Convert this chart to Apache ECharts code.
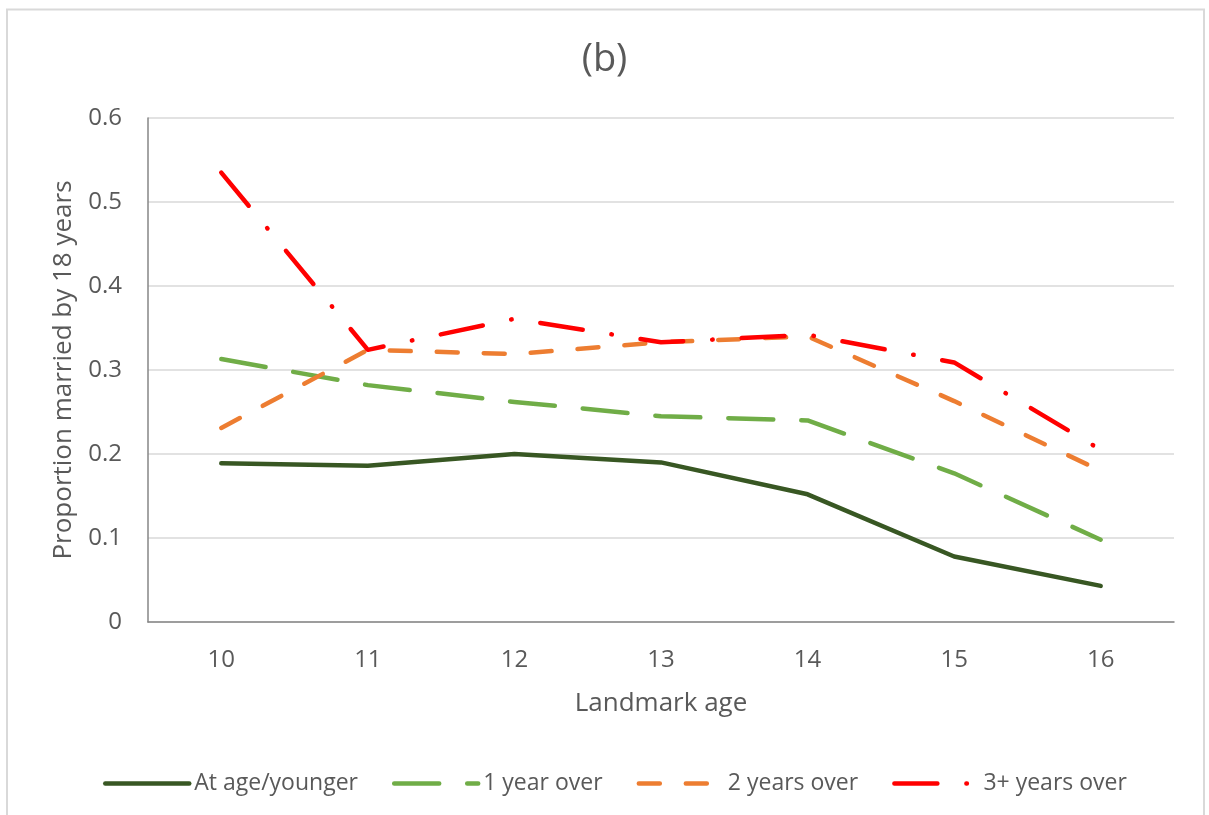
<!DOCTYPE html>
<html>
<head>
<meta charset="utf-8">
<title>(b)</title>
<script src="https://cdn.jsdelivr.net/npm/echarts@6/dist/echarts.min.js"></script>
<style>
  html, body { margin: 0; padding: 0; background: #ffffff; }
  #chart { width: 1209px; height: 815px; }
</style>
</head>
<body>
<div id="chart"></div>
<script>
// Landmark ages on the category axis
const landmarkAges = ['10', '11', '12', '13', '14', '15', '16'];

// Proportion married by 18 years, by age group relative to landmark
const atAgeYounger = [0.189, 0.186, 0.200, 0.190, 0.152, 0.078, 0.043];
const oneYearOver = [0.313, 0.282, 0.262, 0.245, 0.240, 0.177, 0.098];
const twoYearsOver = [0.231, 0.324, 0.319, 0.333, 0.340, 0.263, 0.180];
const threePlusYearsOver = [0.535, 0.324, 0.361, 0.333, 0.342, 0.309, 0.205];

const seriesNames = ['At age/younger', '1 year over', '2 years over', '3+ years over'];

const FONT = '"Open Sans", "Noto Sans", sans-serif';
const TEXT = '#595959';

function lineSeries(name, data, color, dash) {
  return {
    name: name,
    type: 'line',
    data: data,
    symbol: 'none',
    smooth: false,
    lineStyle: {
      color: color,
      width: 4.5,
      type: dash,
      cap: 'round',
      join: 'round'
    },
    itemStyle: { color: color },
    emphasis: { disabled: true }
  };
}

const chart = echarts.init(document.getElementById('chart'), null, { renderer: 'canvas' });

chart.setOption({
  animation: false,
  backgroundColor: '#ffffff',
  textStyle: { fontFamily: FONT, color: TEXT },
  title: {
    text: '(b)',
    left: 'center',
    top: 36,
    textStyle: { fontFamily: FONT, fontSize: 38, fontWeight: 'normal', color: TEXT }
  },
  graphic: [{
    type: 'rect',
    silent: true,
    shape: { x: 7, y: 9.5, width: 1197, height: 830 },
    style: { fill: 'none', stroke: '#d9d9d9', lineWidth: 2 }
  }],
  grid: { left: 148, right: 35, top: 118, bottom: 193, containLabel: false },
  legend: {
    data: seriesNames,
    bottom: 15,
    left: 98,
    itemWidth: 84,
    itemHeight: 12,
    itemGap: 34,
    itemStyle: { opacity: 0 },
    lineStyle: { width: 4.5, cap: 'round' },
    textStyle: { fontFamily: FONT, fontSize: 23, color: TEXT }
  },
  xAxis: {
    type: 'category',
    data: landmarkAges,
    boundaryGap: true,
    name: 'Landmark age',
    nameLocation: 'middle',
    nameGap: 69,
    nameTextStyle: { fontFamily: FONT, fontSize: 26, color: TEXT },
    axisLine: { lineStyle: { color: '#868686', width: 1.5 } },
    axisTick: { show: false },
    axisLabel: { fontFamily: FONT, fontSize: 24, color: TEXT, margin: 26 },
    splitLine: { show: false }
  },
  yAxis: {
    type: 'value',
    min: 0,
    max: 0.6,
    interval: 0.1,
    name: 'Proportion married by 18 years',
    nameLocation: 'middle',
    nameGap: 71,
    nameTextStyle: { fontFamily: FONT, fontSize: 26, color: TEXT },
    axisLine: { show: true, lineStyle: { color: '#868686', width: 1.5 } },
    axisTick: { show: false },
    axisLabel: {
      fontFamily: FONT, fontSize: 24, color: TEXT, margin: 26,
      formatter: function (v) { return v === 0 ? '0' : String(Math.round(v * 10) / 10); }
    },
    splitLine: { lineStyle: { color: '#d9d9d9', width: 1.5 } }
  },
  series: [
    lineSeries(seriesNames[0], atAgeYounger, '#385723', 'solid'),
    lineSeries(seriesNames[1], oneYearOver, '#70ad47', [45, 28]),
    lineSeries(seriesNames[2], twoYearsOver, '#ed7d31', [21, 26]),
    lineSeries(seriesNames[3], threePlusYearsOver, '#ff0000', [43, 29, 0.5, 29])
  ]
});
</script>
</body>
</html>
